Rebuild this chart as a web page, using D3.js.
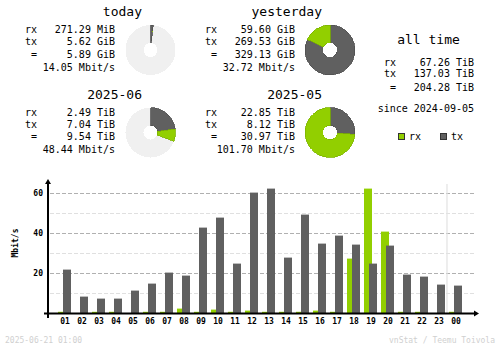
<!DOCTYPE html>
<html>
<head>
<meta charset="utf-8">
<script src="https://cdn.jsdelivr.net/npm/d3@7"></script>
<style>
  html, body { margin: 0; padding: 0; background: #fff; }
  svg { display: block; }
  text { font-family: "DejaVu Sans Mono", monospace; fill: #000; }
</style>
</head>
<body>
<svg id="chart" width="500" height="348"></svg>
<script>
// ---- summary data ----
const periods   = ["today", "yesterday", "2025-06", "2025-05"];
const rxText    = ["271.29 MiB", "59.60 GiB", "2.49 TiB", "22.85 TiB"];
const txText    = ["5.62 GiB", "269.53 GiB", "7.04 TiB", "8.12 TiB"];
const totText   = ["5.89 GiB", "329.13 GiB", "9.54 TiB", "30.97 TiB"];
const rateText  = ["14.05 Mbit/s", "32.72 Mbit/s", "48.44 Mbit/s", "101.70 Mbit/s"];
// volumes used for the donuts (GiB for days, TiB for months) and the reference full circle
const rxVol     = [0.265, 59.60, 2.49, 22.85];
const txVol     = [5.62, 269.53, 7.04, 8.12];
const pieBase   = [329.13, 329.13, 30.97, 30.97];

const allTimeRx    = "67.26 TiB";
const allTimeTx    = "137.03 TiB";
const allTimeTotal = "204.28 TiB";
const sinceText    = "since 2024-09-05";

// ---- hourly data (Mbit/s) ----
const hours  = ["01","02","03","04","05","06","07","08","09","10","11","12",
                "13","14","15","16","17","18","19","20","21","22","23","00"];
const rxRate = [0.6, 0, 0.6, 0.6, 0, 0.6, 0.6, 2.2, 0.6, 1.7, 0.6, 1.2,
                0.6, 0.6, 0.6, 1.2, 0.6, 27.2, 62.2, 40.7, 0.6, 0.6, 0, 0.6];
const txRate = [21.7, 8.2, 7.2, 7.2, 11.2, 14.7, 20.2, 18.7, 42.7, 47.7, 24.7, 60.2,
                62.2, 27.7, 49.2, 34.7, 38.7, 34.2, 24.7, 33.7, 19.2, 18.2, 14.2, 13.7];
const yTicks = [20, 40, 60];
const yMinor = [10, 30, 50];

const timestamp = "2025-06-21 01:00";
const credit = "vnStat / Teemu Toivola";

const C = { rx: "#92cf00", rxD: "#7db300", tx: "#606060", txD: "#505050",
            pieBg: "#f0f0f0", line: "#b0b0b0", lineL: "#e0e0e0", faint: "#d0d0d0" };

const svg = d3.select("#chart");

// ---- summary blocks ----
const blockPos = [
  { lx: 25,  vx: 115, tx: 142, cx: 150.5, dy: 0 },
  { lx: 205, vx: 295, tx: 322, cx: 330,   dy: 0 },
  { lx: 25,  vx: 115, tx: 142, cx: 150.5, dy: 82.5 },
  { lx: 205, vx: 295, tx: 322, cx: 330,   dy: 82.5 }
];

const arc = d3.arc().innerRadius(7).outerRadius(25);

periods.forEach((p, i) => {
  const b = blockPos[i];
  const g = svg.append("g").attr("transform", `translate(0,${b.dy})`);
  g.append("text").attr("x", b.tx).attr("y", 16).attr("text-anchor", "end")
    .style("font-size", "13px").text(p);
  const rows = [["rx", rxText[i], 33], ["tx", txText[i], 45], [" =", totText[i], 57.5]];
  rows.forEach(([lab, val, y]) => {
    g.append("text").attr("x", b.lx).attr("y", y).style("font-size", "10px")
      .attr("xml:space", "preserve").text(lab);
    g.append("text").attr("x", b.vx).attr("y", y).attr("text-anchor", "end")
      .style("font-size", "10px").text(val);
  });
  g.append("text").attr("x", b.vx).attr("y", 70.5).attr("text-anchor", "end")
    .style("font-size", "10px").text(rateText[i]);

  // donut: tx from 12 o'clock clockwise, then rx
  const pie = g.append("g").attr("transform", `translate(${b.cx},50)`)
    .attr("shape-rendering", "crispEdges");
  pie.append("circle").attr("r", 25).attr("fill", C.pieBg);
  const aTx = txVol[i] / pieBase[i] * 2 * Math.PI;
  const aRx = rxVol[i] / pieBase[i] * 2 * Math.PI;
  const edge = a => (a > 0.05 ? 0.8 : 0);
  pie.append("path").attr("d", arc({ startAngle: 0, endAngle: aTx }))
    .attr("fill", C.tx).attr("stroke", C.txD).attr("stroke-width", edge(aTx));
  pie.append("path").attr("d", arc({ startAngle: aTx, endAngle: aTx + aRx }))
    .attr("fill", C.rx).attr("stroke", C.rxD).attr("stroke-width", edge(aRx));
  pie.append("circle").attr("r", 7).attr("fill", "#fff");
});

// ---- all time block ----
const at = svg.append("g");
at.append("text").attr("x", 428.5).attr("y", 43.5).attr("text-anchor", "middle")
  .style("font-size", "13px").text("all time");
[["rx", allTimeRx, 66], ["tx", allTimeTx, 77], [" =", allTimeTotal, 90.5]].forEach(([lab, val, y]) => {
  at.append("text").attr("x", 384).attr("y", y).style("font-size", "10px")
    .attr("xml:space", "preserve").text(lab);
  at.append("text").attr("x", 474).attr("y", y).attr("text-anchor", "end")
    .style("font-size", "10px").text(val);
});
at.append("text").attr("x", 474).attr("y", 111.5).attr("text-anchor", "end")
  .style("font-size", "10px").text(sinceText);

// legend
[["rx", C.rx, 398.5], ["tx", C.tx, 440.5]].forEach(([lab, fill, x]) => {
  at.append("rect").attr("x", x).attr("y", 133.5).attr("width", 6).attr("height", 6)
    .attr("fill", fill).attr("stroke", "#333").attr("stroke-width", 1);
  at.append("text").attr("x", x + 10.5).attr("y", 140).style("font-size", "10px").text(lab);
});

// ---- hourly bar chart ----
const x = d3.scaleBand().domain(hours).range([56.5, 464.5]).paddingInner(0).paddingOuter(0);
const y = d3.scaleLinear().domain([0, 60]).range([313, 193]);
const chart = svg.append("g");

// grid
chart.selectAll("line.minor").data(yMinor).join("line")
  .attr("x1", 50).attr("x2", 474).attr("y1", d => Math.round(y(d)) + 0.5).attr("y2", d => Math.round(y(d)) + 0.5)
  .attr("stroke", C.lineL).attr("stroke-dasharray", "4,2");
chart.selectAll("line.major").data(yTicks).join("line")
  .attr("x1", 50).attr("x2", 474).attr("y1", d => Math.round(y(d)) + 0.5).attr("y2", d => Math.round(y(d)) + 0.5)
  .attr("stroke", C.line).attr("stroke-dasharray", "4,2");

// current-hour separator
const sepX = x("00") - 0.5;
chart.append("line").attr("x1", sepX).attr("x2", sepX).attr("y1", 184).attr("y2", 313)
  .attr("stroke", "#e2e2e2").attr("stroke-width", 1.2);

// bars
chart.selectAll("rect.rx").data(hours).join("rect")
  .attr("x", d => x(d) + 1.5).attr("width", 8)
  .attr("y", (d, i) => y(rxRate[i])).attr("height", (d, i) => y(0) - y(rxRate[i]))
  .attr("fill", C.rx);
chart.selectAll("rect.tx").data(hours).join("rect")
  .attr("x", d => x(d) + 6.5).attr("width", 8)
  .attr("y", (d, i) => y(txRate[i])).attr("height", (d, i) => y(0) - y(txRate[i]))
  .attr("fill", C.tx);

// axes
chart.append("line").attr("x1", 48).attr("x2", 48).attr("y1", 183).attr("y2", 318)
  .attr("stroke", "#000").attr("stroke-width", 2);
chart.append("line").attr("x1", 44).attr("x2", 475).attr("y1", 313.5).attr("y2", 313.5)
  .attr("stroke", "#000").attr("stroke-width", 2);
chart.append("path").attr("d", "M48,179 L45,184 L51,184 Z").attr("fill", "#000");
chart.append("path").attr("d", "M479,313.5 L474,310.5 L474,316.5 Z").attr("fill", "#000");

// y tick labels
chart.selectAll("text.ytick").data(yTicks).join("text")
  .attr("x", 43).attr("y", d => y(d) + 3).attr("text-anchor", "end")
  .style("font-size", "8px").style("font-weight", "bold").text(d => d);

// hour labels
chart.selectAll("text.hour").data(hours).join("text")
  .attr("x", d => x(d) + x.bandwidth() / 2).attr("y", 324).attr("text-anchor", "middle")
  .style("font-size", "8px").style("font-weight", "bold").text(d => d);

// y axis title
chart.append("text").attr("transform", "translate(18,243) rotate(-90)")
  .attr("text-anchor", "middle").style("font-size", "8px").style("font-weight", "bold").text("Mbit/s");

// footer
svg.append("text").attr("x", 5).attr("y", 343).style("font-size", "8px")
  .style("fill", C.faint).text(timestamp);
svg.append("text").attr("x", 495).attr("y", 343).attr("text-anchor", "end")
  .style("font-size", "8px").style("fill", C.faint).text(credit);
</script>
</body>
</html>
